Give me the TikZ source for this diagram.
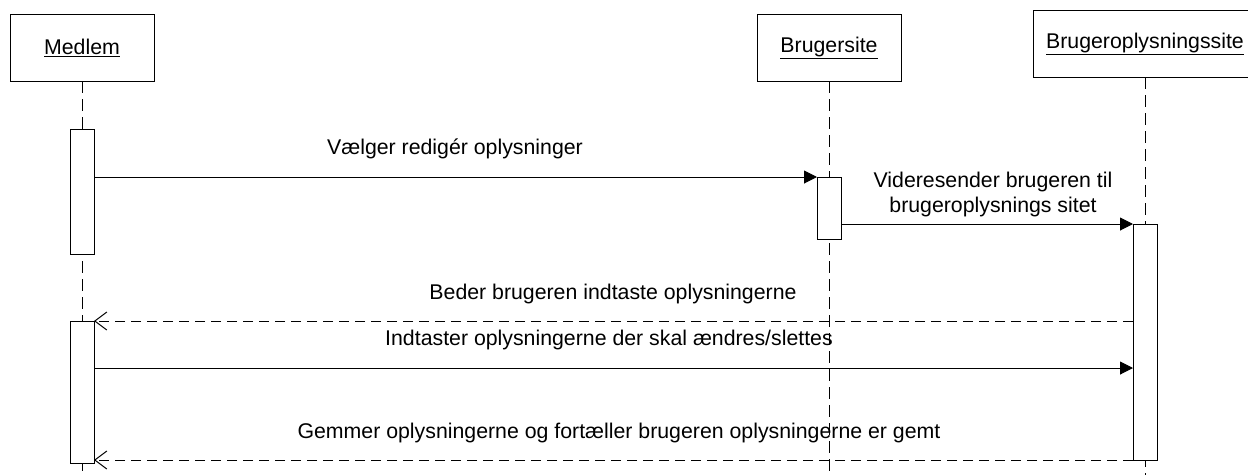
\documentclass[tikz,border=0pt]{standalone}
\usepackage{fontspec}
\setmainfont{Liberation Sans}
\usetikzlibrary{arrows.meta}
\begin{document}
\begin{tikzpicture}[x=1pt,y=-1pt,
  font=\fontsize{21.3}{25}\selectfont,
  every node/.style={inner sep=0pt,outer sep=0pt},
  actor/.style={draw,line width=1pt,fill=white,minimum width=144pt,minimum height=67pt},
  lifeline/.style={line width=1pt,dash pattern=on 12pt off 6pt},
  activation/.style={draw,line width=1pt,fill=white,minimum width=24pt},
  sync/.style={line width=1pt,-{Triangle[length=13pt,width=13pt]}},
  reply/.style={line width=1pt,dash pattern=on 10pt off 6pt,-{Straight Barb[length=12pt,width=18pt,line width=1pt]}},
  msg/.style={align=center}]
\clip (0,0) rectangle (1248,475);
\fill[white] (0,0) rectangle (1248,475);

% participants
\node[actor] (medlem) at (82,47.5) {\underline{Medlem}};
\node[actor] (bruger) at (829,47.5) {\underline{Brugersite}};
\node[actor,minimum width=224pt] (oplys) at (1145,43.5) {\underline{Brugeroplysningssite}};

% lifeline ends
\coordinate (medlemEnd) at (82,475);
\coordinate (brugerEnd) at (829,475);
\coordinate (oplysEnd) at (1145,475);
\draw[lifeline] (medlem.south) -- (medlemEnd);
\draw[lifeline] (bruger.south) -- (brugerEnd);
\draw[lifeline] (oplys.south) -- (oplysEnd);

% activation bars
\node[activation,minimum height=125pt] (act1) at (82,191.5) {};
\node[activation,minimum height=62pt] (act2) at (829,208) {};
\node[activation,minimum height=236pt] (act3) at (1145,342) {};
\node[activation,minimum height=142pt] (act4) at (82,392) {};

% messages
\draw[sync] (act1.east |- act2.north) -- (act2.north west);
\draw[sync] (act2.east |- act3.north) -- (act3.north west);
\draw[reply] (act3.west |- act4.north) -- (act4.north east);
\coordinate (m3) at (0,368);
\draw[sync] (act4.east |- m3) -- (act3.west |- m3);
\draw[reply] (act3.south west) -- (act4.east |- act3.south);

% message labels
\node[msg] (l1) at (455,149) {Vælger redigér oplysninger};
\node[msg] (l2) at (993,194) {Videresender brugeren til\\brugeroplysnings sitet};
\node[msg] (l3) at (613,294) {Beder brugeren indtaste oplysningerne};
\node[msg] (l4) at (609,340) {Indtaster oplysningerne der skal ændres/slettes};
\node[msg] (l5) at (619,433) {Gemmer oplysningerne og fortæller brugeren oplysningerne er gemt};
\end{tikzpicture}
\end{document}
